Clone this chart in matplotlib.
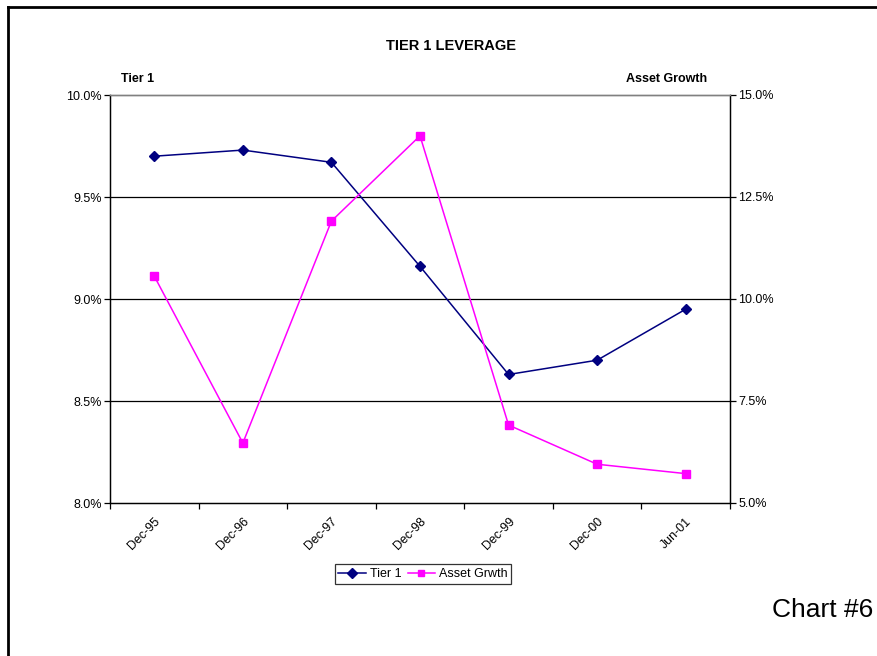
import numpy as np
import matplotlib
matplotlib.use("Agg")
import matplotlib.pyplot as plt
from matplotlib.ticker import FuncFormatter, FixedLocator
from matplotlib.lines import Line2D

plt.rcParams["font.family"] = ["Liberation Sans", "DejaVu Sans"]

# ── data ──────────────────────────────────────────────────────────────
periods = ["Dec-95", "Dec-96", "Dec-97", "Dec-98", "Dec-99", "Dec-00", "Jun-01"]
tier1 = [9.70, 9.73, 9.67, 9.16, 8.63, 8.70, 8.95]          # % (left axis)
asset_growth = [10.56, 6.47, 11.91, 14.00, 6.91, 5.95, 5.72]  # % (right axis)

NAVY = "#000080"
MAGENTA = "#FF00FF"

fig = plt.figure(figsize=(8.78, 6.56), dpi=100, facecolor="white")
W, H = 878, 656
# plot area in pixel terms
left, right, top, bottom = 110, 730, 95, 503
ax = fig.add_axes([left / W, 1 - bottom / H, (right - left) / W, (bottom - top) / H])
ax2 = ax.twinx()

x = np.arange(len(periods))

ax.set_xlim(-0.5, len(periods) - 0.5)
ax.set_ylim(8.0, 10.0)
ax2.set_ylim(5.0, 15.0)

# horizontal gridlines
for yv in [8.5, 9.0, 9.5]:
    ax.axhline(yv, color="black", lw=0.9, zorder=1)

l1, = ax.plot(x, tier1, color=NAVY, lw=1.1, marker="D", ms=5,
              mfc=NAVY, mec=NAVY, zorder=3)
l2, = ax2.plot(x, asset_growth, color=MAGENTA, lw=1.1, marker="s", ms=6,
               mfc=MAGENTA, mec=MAGENTA, zorder=3)

pct = FuncFormatter(lambda v, _: f"{v:.1f}%")
ax.set_yticks([8.0, 8.5, 9.0, 9.5, 10.0])
ax.yaxis.set_major_formatter(pct)
ax2.set_yticks([5.0, 7.5, 10.0, 12.5, 15.0])
ax2.yaxis.set_major_formatter(pct)

ax.set_xticks(x)
ax.set_xticklabels(periods, rotation=45, ha="right", va="top",
                   rotation_mode="anchor", fontsize=9)
ax.tick_params(axis="x", which="major", length=0, pad=9)
ax.xaxis.set_minor_locator(FixedLocator(np.arange(-0.5, len(periods), 1.0)))
ax.tick_params(axis="x", which="minor", length=4, width=0.9, direction="out")

ax.tick_params(axis="y", length=4, width=0.9, direction="out", labelsize=9, pad=2)
ax2.tick_params(axis="y", length=4, width=0.9, direction="out", labelsize=9, pad=2)

for a in (ax, ax2):
    a.spines["top"].set_color("#808080")
    a.spines["top"].set_linewidth(1.0)
    for s in ("left", "right", "bottom"):
        a.spines[s].set_color("black")
        a.spines[s].set_linewidth(0.9)

# titles and axis captions
fig.text(451 / W, 1 - 46 / H, "TIER 1 LEVERAGE", ha="center", va="center",
         fontsize=10.5, fontweight="bold")
fig.text(121 / W, 1 - 79 / H, "Tier 1", ha="left", va="center",
         fontsize=9, fontweight="bold")
fig.text(707 / W, 1 - 79 / H, "Asset Growth", ha="right", va="center",
         fontsize=9, fontweight="bold")
fig.text(873 / W, 1 - 610 / H, "Chart #6", ha="right", va="center", fontsize=19)

leg = fig.legend([l1, l2], ["Tier 1", "Asset Grwth"], loc="center",
                 bbox_to_anchor=(423 / W, 1 - 574 / H), ncol=2, fontsize=9,
                 frameon=True, fancybox=False, edgecolor="black",
                 handlelength=2.2, handletextpad=0.3, columnspacing=0.5,
                 borderpad=0.3, borderaxespad=0)
leg.get_frame().set_linewidth(0.9)
for h in leg.legend_handles:
    h.set_markersize(5)

# page frame (left and top edges)
fig.add_artist(Line2D([8 / W, 8 / W], [0, 1 - 7 / H], color="black", lw=2,
                      transform=fig.transFigure))
fig.add_artist(Line2D([8 / W, 1], [1 - 7 / H, 1 - 7 / H], color="black", lw=2,
                      transform=fig.transFigure))

fig.savefig("out.png", dpi=100, facecolor="white")
